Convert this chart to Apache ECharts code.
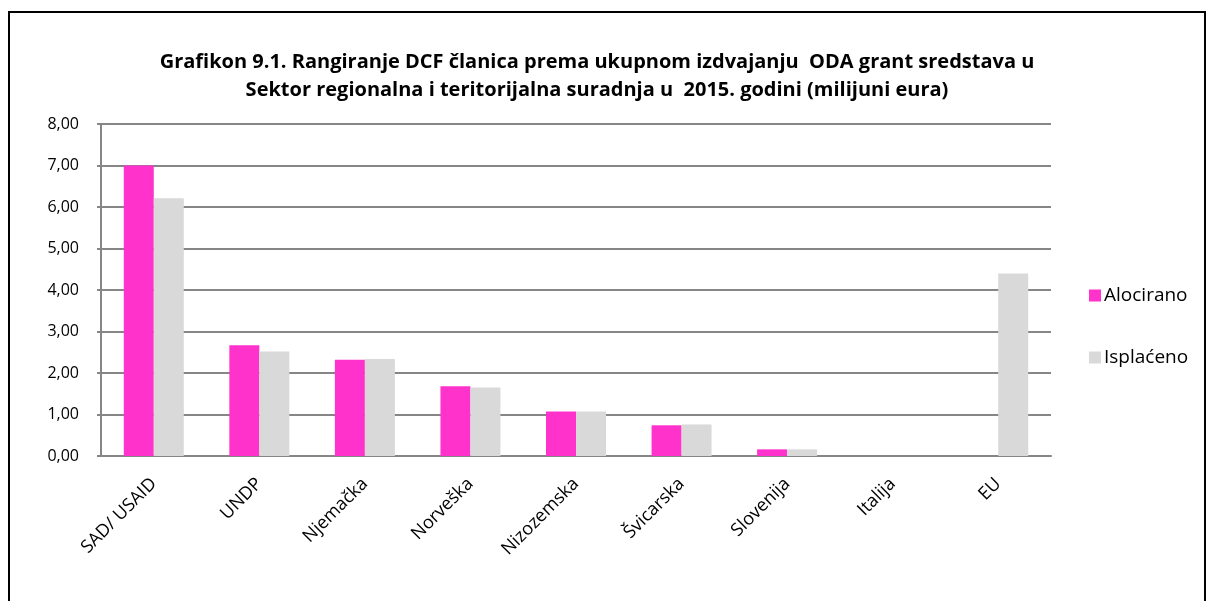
<!DOCTYPE html>
<html>
<head>
<meta charset="utf-8">
<script src="https://cdn.jsdelivr.net/npm/echarts@6/dist/echarts.min.js"></script>
<style>
  html, body { margin: 0; padding: 0; background: #fff; }
  .frame {
    position: absolute; left: 8px; top: 11px;
    width: 1194px; height: 620px;
    border: 2px solid #000;
  }
  #chart { position: absolute; left: -10px; top: -13px; width: 1206px; height: 601px; }
</style>
</head>
<body>
<div class="frame"><div id="chart"></div></div>
<script>
// podaci (milijuni eura)
var categories = ['SAD/ USAID', 'UNDP', 'Njemačka', 'Norveška', 'Nizozemska', 'Švicarska', 'Slovenija', 'Italija', 'EU'];
var alocirano = [7.00, 2.67, 2.32, 1.68, 1.07, 0.74, 0.16, 0, 0];
var isplaceno = [6.21, 2.52, 2.34, 1.65, 1.07, 0.76, 0.16, 0, 4.40];
var yTicks = [0, 1, 2, 3, 4, 5, 6, 7, 8];

var font = '"Open Sans", Lato, sans-serif';
var myChart = echarts.init(document.getElementById('chart'));
myChart.setOption({
  animation: false,
  title: {
    text: 'Grafikon 9.1. Rangiranje DCF članica prema ukupnom izdvajanju  ODA grant sredstava u\nSektor regionalna i teritorijalna suradnja u  2015. godini (milijuni eura)',
    left: 592,
    textAlign: 'center',
    top: 43,
    textStyle: { fontFamily: font, fontWeight: 'bold', fontSize: 20, lineHeight: 28, color: '#000' }
  },
  legend: {
    orient: 'vertical',
    left: 1084,
    top: 281,
    itemGap: 43,
    itemWidth: 12,
    itemHeight: 12,
    icon: 'rect',
    data: ['Alocirano', 'Isplaćeno'],
    textStyle: { fontFamily: font, fontSize: 19, color: '#000', padding: [0, 0, 0, -2] }
  },
  grid: { left: 101, right: 155, top: 124, bottom: 145 },
  xAxis: {
    type: 'category',
    data: categories,
    axisTick: { show: false },
    axisLine: { lineStyle: { color: '#868686', width: 2 } },
    axisLabel: { rotate: 45, interval: 0, margin: 25, fontFamily: font, fontSize: 18, color: '#000' }
  },
  yAxis: {
    type: 'value',
    min: 0, max: 8, interval: 1,
    axisLine: { show: true, lineStyle: { color: '#868686', width: 2 } },
    axisTick: { show: true, inside: false, length: 4, lineStyle: { color: '#868686', width: 2 } },
    splitLine: { lineStyle: { color: '#868686', width: 2 } },
    axisLabel: {
      margin: 22, fontFamily: font, fontSize: 16, color: '#000',
      formatter: function (v) { return yTicks.indexOf(v) >= 0 ? v.toFixed(2).replace('.', ',') : ''; }
    }
  },
  series: [
    { name: 'Alocirano', type: 'bar', data: alocirano, barWidth: 30, barGap: '0%', itemStyle: { color: '#ff33cc' } },
    { name: 'Isplaćeno', type: 'bar', data: isplaceno, barWidth: 30, barGap: '0%', itemStyle: { color: '#d9d9d9' } }
  ]
});
</script>
</body>
</html>
